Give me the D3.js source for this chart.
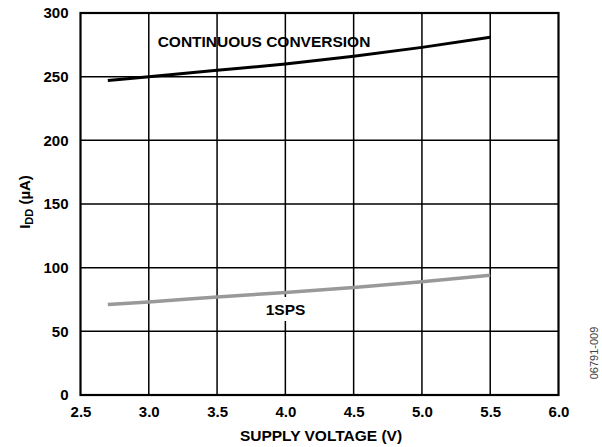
<!DOCTYPE html>
<html>
<head>
<meta charset="utf-8">
<script src="https://cdn.jsdelivr.net/npm/d3@7"></script>
<style>
body { margin: 0; background: #fff; }
text { font-family: Arial, "Liberation Sans", sans-serif; font-weight: bold; }
</style>
</head>
<body>
<svg width="602" height="447"></svg>
<script>
// Data
var voltage = [2.7, 3.0, 3.5, 4.0, 4.5, 5.0, 5.5];
var iddContinuous = [247, 250, 255, 260, 266, 273, 281];
var idd1sps = [71, 73, 77, 80.5, 84.5, 89, 94];
var xTicks = [2.5, 3.0, 3.5, 4.0, 4.5, 5.0, 5.5, 6.0];
var yTicks = [0, 50, 100, 150, 200, 250, 300];

var plotLeft = 80.5, plotRight = 558.5, plotTop = 13, plotBottom = 395;

var svg = d3.select("svg");

var x = d3.scaleLinear().domain([2.5, 6.0]).range([plotLeft, plotRight]);
var y = d3.scaleLinear().domain([0, 300]).range([plotBottom, plotTop]);

// Grid
var grid = svg.append("g").attr("class", "grid");
grid.selectAll(".vgrid")
	.data(xTicks.slice(1, -1))
	.enter().append("line")
		.attr("class", "vgrid")
		.attr("x1", function(d) { return x(d); })
		.attr("x2", function(d) { return x(d); })
		.attr("y1", plotTop)
		.attr("y2", plotBottom)
		.attr("stroke", "#000")
		.attr("stroke-width", 1.5);

grid.selectAll(".hgrid")
	.data(yTicks.slice(1, -1))
	.enter().append("line")
		.attr("class", "hgrid")
		.attr("x1", plotLeft)
		.attr("x2", plotRight)
		.attr("y1", function(d) { return y(d); })
		.attr("y2", function(d) { return y(d); })
		.attr("stroke", "#000")
		.attr("stroke-width", 1.5);

// Frame
svg.append("rect")
	.attr("x", plotLeft)
	.attr("y", plotTop)
	.attr("width", plotRight - plotLeft)
	.attr("height", plotBottom - plotTop)
	.attr("fill", "none")
	.attr("stroke", "#000")
	.attr("stroke-width", 2.2);

// Axes (labels only)
var xAxis = svg.append("g")
	.attr("transform", "translate(0," + plotBottom + ")")
	.call(d3.axisBottom(x).tickValues(xTicks).tickFormat(d3.format(".1f")).tickSize(0).tickPadding(11));
var yAxis = svg.append("g")
	.attr("transform", "translate(" + plotLeft + ",0)")
	.call(d3.axisLeft(y).tickValues(yTicks).tickSize(0).tickPadding(12));

[xAxis, yAxis].forEach(function(a) {
	a.select(".domain").remove();
	a.selectAll("text")
		.attr("font-size", "15px")
		.attr("font-family", "Arial, 'Liberation Sans', sans-serif")
		.attr("font-weight", "bold")
		.attr("fill", "#000");
});

// Lines
var line = d3.line()
	.x(function(d) { return x(d[0]); })
	.y(function(d) { return y(d[1]); })
	.curve(d3.curveMonotoneX);

svg.append("path")
	.datum(d3.zip(voltage, idd1sps))
	.attr("d", line)
	.attr("fill", "none")
	.attr("stroke", "#999")
	.attr("stroke-width", 3.5);

svg.append("path")
	.datum(d3.zip(voltage, iddContinuous))
	.attr("d", line)
	.attr("fill", "none")
	.attr("stroke", "#000")
	.attr("stroke-width", 3);

// Series labels
svg.append("text")
	.attr("x", 264)
	.attr("y", 47)
	.attr("text-anchor", "middle")
	.attr("font-size", "15.5px")
	.text("CONTINUOUS CONVERSION");

var lbl1 = svg.append("g");
lbl1.append("rect")
	.attr("x", 262)
	.attr("y", 297)
	.attr("width", 46)
	.attr("height", 24)
	.attr("fill", "#fff");
lbl1.append("text")
	.attr("x", 285.5)
	.attr("y", 315)
	.attr("text-anchor", "middle")
	.attr("font-size", "15.5px")
	.text("1SPS");

// Axis titles
svg.append("text")
	.attr("x", 321)
	.attr("y", 441)
	.attr("text-anchor", "middle")
	.attr("font-size", "15.5px")
	.text("SUPPLY VOLTAGE (V)");

var yt = svg.append("text")
	.attr("transform", "translate(30,202) rotate(-90)")
	.attr("text-anchor", "middle")
	.attr("font-size", "15px");
yt.append("tspan").text("I");
yt.append("tspan").attr("font-size", "11px").attr("dy", 3).text("DD");
yt.append("tspan").attr("dy", -3).text(" (\u00b5A)");

// Figure id
svg.append("text")
	.attr("transform", "translate(598,353) rotate(-90)")
	.attr("text-anchor", "middle")
	.attr("font-size", "11px")
	.attr("fill", "#444")
	.style("font-weight", "normal")
	.text("06791-009");
</script>
</body>
</html>
